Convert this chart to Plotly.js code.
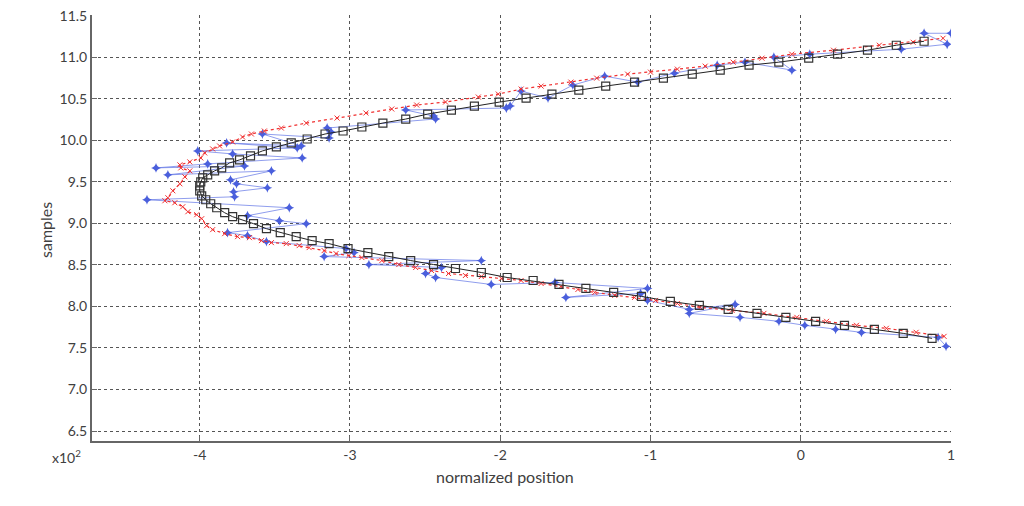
<!DOCTYPE html>
<html>
<head>
<meta charset="utf-8">
<script src="https://cdn.plot.ly/plotly-3.0.1.min.js"></script>
<style>html,body{margin:0;padding:0;background:#fff;}#chart{width:1024px;height:506px;}</style>
</head>
<body>
<div id="chart"></div>
<script>
// Black series (squares)
var blackX = [0.874,0.682,0.490,0.291,0.099,-0.099,-0.291,-0.483,-0.675,-0.868,-1.060,-1.245,-1.430,-1.609,-1.781,-1.954,-2.126,-2.298,-2.444,-2.596,-2.742,-2.881,-3.013,-3.139,-3.252,-3.358,-3.464,-3.556,-3.642,-3.715,-3.781,-3.834,-3.887,-3.927,-3.960,-3.987,-4.000,-4.000,-3.993,-3.980,-3.947,-3.901,-3.854,-3.801,-3.735,-3.662,-3.583,-3.490,-3.391,-3.285,-3.166,-3.046,-2.921,-2.781,-2.629,-2.483,-2.325,-2.172,-2.007,-1.828,-1.656,-1.477,-1.298,-1.106,-0.914,-0.722,-0.536,-0.344,-0.146,0.053,0.245,0.444,0.636,0.821];
var blackY = [7.616,7.676,7.724,7.772,7.820,7.869,7.917,7.965,8.013,8.061,8.121,8.169,8.217,8.265,8.313,8.349,8.409,8.457,8.505,8.553,8.601,8.649,8.697,8.757,8.793,8.841,8.889,8.937,8.997,9.045,9.081,9.129,9.189,9.237,9.285,9.333,9.393,9.453,9.501,9.549,9.585,9.633,9.669,9.729,9.765,9.813,9.873,9.921,9.969,10.017,10.077,10.113,10.161,10.209,10.257,10.317,10.365,10.413,10.461,10.509,10.558,10.606,10.654,10.702,10.750,10.798,10.846,10.906,10.942,10.990,11.038,11.086,11.146,11.194];

// Red series (x markers, dotted)
var redX = [0.954,0.768,0.570,0.371,0.172,-0.026,-0.245,-0.457,-0.669,-0.821,-0.967,-1.106,-1.238,-1.371,-1.483,-1.596,-1.728,-1.861,-1.993,-2.126,-2.232,-2.344,-2.457,-2.563,-2.675,-2.788,-2.921,-3.007,-3.093,-3.172,-3.272,-3.338,-3.424,-3.523,-3.589,-3.669,-3.748,-3.834,-3.914,-3.954,-3.987,-4.020,-4.079,-4.113,-4.166,-4.232,-4.212,-4.179,-4.132,-4.099,-4.066,-4.126,-4.132,-4.066,-3.993,-3.967,-3.914,-3.868,-3.781,-3.715,-3.656,-3.570,-3.457,-3.291,-3.086,-2.894,-2.722,-2.556,-2.364,-2.146,-2.013,-1.861,-1.728,-1.530,-1.358,-1.152,-1.000,-0.821,-0.636,-0.450,-0.258,-0.060,0.218,0.523,0.748,0.947];
var redY = [7.640,7.689,7.737,7.773,7.821,7.869,7.917,7.953,7.989,8.037,8.073,8.109,8.133,8.169,8.205,8.241,8.277,8.313,8.337,8.361,8.373,8.397,8.433,8.469,8.505,8.553,8.589,8.613,8.637,8.673,8.709,8.733,8.757,8.769,8.793,8.829,8.841,8.877,8.925,8.973,9.057,9.105,9.141,9.201,9.249,9.273,9.309,9.393,9.477,9.561,9.633,9.669,9.705,9.741,9.789,9.849,9.897,9.933,9.981,10.041,10.077,10.113,10.149,10.209,10.269,10.330,10.378,10.426,10.462,10.522,10.558,10.618,10.654,10.702,10.750,10.798,10.822,10.858,10.894,10.942,10.990,11.038,11.086,11.146,11.182,11.230];

// Blue series (noisy, star markers)
var blueX = [0.967,0.914,0.404,0.232,0.027,-0.145,-0.404,-0.742,-0.437,-0.742,-1.020,-1.066,-1.563,-1.020,-1.636,-2.060,-2.430,-2.497,-2.391,-2.874,-2.126,-3.172,-2.973,-3.026,-3.556,-3.682,-3.815,-3.291,-3.470,-3.682,-3.404,-4.351,-3.768,-3.775,-3.550,-3.755,-3.795,-3.523,-4.212,-3.702,-4.291,-3.947,-3.318,-3.781,-4.013,-3.351,-3.821,-3.324,-3.583,-3.139,-3.126,-3.152,-2.430,-2.444,-2.629,-1.960,-1.934,-1.861,-1.682,-1.517,-1.305,-1.086,-0.841,-0.556,-0.371,-0.059,-0.179,0.060,0.669,0.974,0.821,1.000];
var blueY = [7.520,7.628,7.688,7.725,7.773,7.821,7.869,7.917,8.025,7.965,8.073,8.157,8.109,8.217,8.289,8.265,8.349,8.397,8.469,8.505,8.553,8.601,8.649,8.697,8.781,8.853,8.889,8.997,9.033,9.093,9.189,9.285,9.321,9.381,9.429,9.477,9.525,9.633,9.585,9.693,9.669,9.717,9.789,9.837,9.873,9.909,9.969,9.933,10.077,10.029,10.101,10.149,10.258,10.294,10.366,10.390,10.414,10.594,10.510,10.666,10.774,10.702,10.810,10.906,10.942,10.846,11.002,11.038,11.098,11.158,11.290,11.290];

// Axis ticks
var xTicks = [-4,-3,-2,-1,0,1];
var xTickLabels = ['-4','-3','-2','-1','0','1'];
var yTicks = [6.5,7.0,7.5,8.0,8.5,9.0,9.5,10.0,10.5,11.0,11.5];
var yTickLabels = yTicks.map(function(v){return v.toFixed(1);});

var fontFam = 'Lato, "Open Sans", sans-serif';

var traces = [
  {x: blueX, y: blueY, type:'scatter', mode:'lines+markers',
   line:{color:'rgba(95,115,230,0.7)', width:1},
   marker:{symbol:'star-diamond', size:7, color:'#4a5fdc'}},
  {x: redX, y: redY, type:'scatter', mode:'lines+markers',
   line:{color:'#f03030', width:1.2, dash:'dot'},
   marker:{symbol:'x-thin-open', size:5, color:'#f03030', line:{color:'#f03030', width:1}}},
  {x: blackX, y: blackY, type:'scatter', mode:'lines+markers',
   line:{color:'#222', width:1},
   marker:{symbol:'square-open', size:8, color:'#333', line:{color:'#333', width:1.2}}}
];

var layout = {
  width:1024, height:506,
  margin:{l:92, r:73, t:15, b:65},
  paper_bgcolor:'#fff', plot_bgcolor:'#fff',
  showlegend:false,
  font:{family:fontFam, size:14, color:'#404040'},
  xaxis:{range:[-4.717,1], tickvals:xTicks, ticktext:xTickLabels,
    showgrid:true, gridcolor:'#555', griddash:'dot', gridwidth:1,
    zeroline:false, showline:true, linecolor:'#666', linewidth:2,
    ticks:'inside', ticklen:5, tickcolor:'#666',
    tickfont:{family:fontFam, size:14, color:'#404040'}},
  yaxis:{range:[6.38,11.51], tickvals:yTicks, ticktext:yTickLabels,
    showgrid:true, gridcolor:'#555', griddash:'dot', gridwidth:1,
    zeroline:false, showline:true, linecolor:'#666', linewidth:2,
    ticks:'inside', ticklen:5, tickcolor:'#666',
    tickfont:{family:fontFam, size:14, color:'#404040'}},
  annotations:[
    {text:'normalized position', xref:'paper', yref:'paper', x:(505-92)/859, y:(441-476)/426,
     xanchor:'center', yanchor:'middle', showarrow:false, font:{family:fontFam, size:16, color:'#404040'}},
    {text:'samples', xref:'paper', yref:'paper', x:(45-92)/859, y:(441-230)/426, textangle:-90,
     xanchor:'center', yanchor:'middle', showarrow:false, font:{family:fontFam, size:16, color:'#404040'}},
    {text:'x10<sup>2</sup>', xref:'paper', yref:'paper', x:(66-92)/859, y:(441-456)/426,
     xanchor:'center', yanchor:'middle', showarrow:false, font:{family:fontFam, size:14, color:'#404040'}}
  ]
};

Plotly.newPlot('chart', traces, layout, {displayModeBar:false, staticPlot:true});
</script>
</body>
</html>
